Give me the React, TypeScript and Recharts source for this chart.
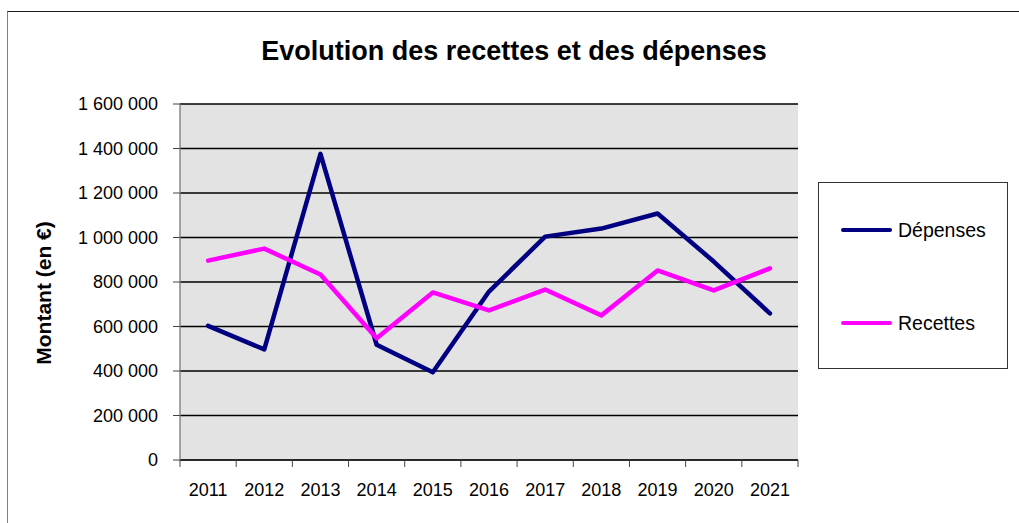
import React from 'react'
import { LineChart, Line, XAxis, YAxis, CartesianGrid } from 'recharts'

const years = ['2011', '2012', '2013', '2014', '2015', '2016', '2017', '2018', '2019', '2020', '2021']
const depenses = [603000, 497000, 1376000, 518000, 394000, 757000, 1004000, 1040000, 1108000, 892000, 659000]
const recettes = [896000, 950000, 834000, 547000, 753000, 672000, 766000, 650000, 852000, 762000, 861000]
const yTicks = [0, 200000, 400000, 600000, 800000, 1000000, 1200000, 1400000, 1600000]

const W = 1019
const H = 523
const X_AXIS_H = 30
const M = { top: 104, right: 221, bottom: 63 - X_AXIS_H, left: 0 }
const Y_AXIS_W = 180
const PLOT_W = W - M.left - M.right - Y_AXIS_W
const BW = PLOT_W / years.length

const FONT = '"Liberation Sans", Arial, sans-serif'

const data = years.map((y, i) => ({ year: y, depenses: depenses[i], recettes: recettes[i] }))

const fmt = (v: number) => String(v).replace(/\B(?=(\d{3})+(?!\d))/g, ' ')

function XTick(props: any) {
  const { x, y, payload, index } = props
  const last = index === years.length - 1
  return (
    <g>
      <line x1={x - BW / 2} x2={x - BW / 2} y1={y} y2={y + 7} stroke="#444" strokeWidth={1} />
      {last && <line x1={x + BW / 2} x2={x + BW / 2} y1={y} y2={y + 7} stroke="#444" strokeWidth={1} />}
      <text x={x} y={y + 30} textAnchor="middle" dominantBaseline="central" fontSize={18} fill="#000" fontFamily={FONT}>
        {payload.value}
      </text>
    </g>
  )
}

const legendItems = [
  { name: 'Dépenses', color: '#000080' },
  { name: 'Recettes', color: '#FF00FF' },
]

export default function App() {
  return (
    <div style={{ position: 'absolute', left: 0, top: 0, width: W, height: H, background: '#fff', fontFamily: FONT, overflow: 'hidden' }}>
      {/* outer chart frame, runs off the right and bottom edges */}
      <div style={{ position: 'absolute', left: 7, top: 11, width: W + 20, height: H + 20, borderTop: '1.5px solid #1a1a1a', borderLeft: '1.5px solid #808080' }} />

      <div style={{ position: 'absolute', left: 0, top: 36, width: 1028, textAlign: 'center', fontSize: 27, fontWeight: 'bold', color: '#000' }}>
        Evolution des recettes et des dépenses
      </div>

      <div style={{ position: 'absolute', left: 44, top: 293, transform: 'translate(-50%, -50%) rotate(-90deg)', whiteSpace: 'nowrap', fontSize: 21, fontWeight: 'bold', color: '#000' }}>
        Montant (en €)
      </div>

      <div style={{ position: 'absolute', left: 0, top: 0 }}>
        <LineChart width={W} height={H} data={data} margin={M}>
          <CartesianGrid vertical={false} stroke="#000" strokeWidth={1.4} fill="#E3E3E3" fillOpacity={1} />
          <XAxis
            dataKey="year"
            height={X_AXIS_H}
            padding={{ left: BW / 2, right: BW / 2 }}
            axisLine={{ stroke: '#222', strokeWidth: 1.4 }}
            tickLine={false}
            tickSize={0}
            tickMargin={0}
            interval={0}
            tick={<XTick />}
          />
          <YAxis
            width={Y_AXIS_W}
            domain={[0, 1600000]}
            ticks={yTicks}
            interval={0}
            tickFormatter={fmt}
            axisLine={{ stroke: '#808080', strokeWidth: 1.4 }}
            tickLine={{ stroke: '#444' }}
            tickSize={7}
            tickMargin={15}
            tick={{ fill: '#000', fontSize: 18, fontFamily: FONT }}
          />
          <Line dataKey="depenses" stroke="#000080" strokeWidth={4.5} dot={false} isAnimationActive={false} strokeLinejoin="round" strokeLinecap="round" />
          <Line dataKey="recettes" stroke="#FF00FF" strokeWidth={4.5} dot={false} isAnimationActive={false} strokeLinejoin="round" strokeLinecap="round" />
        </LineChart>
      </div>

      <div style={{ position: 'absolute', left: 818, top: 182, width: 188, height: 185, border: '1px solid #333', background: '#fff' }}>
        {legendItems.map((it, i) => (
          <div key={it.name} style={{ position: 'absolute', left: 22, top: 47 + i * 93 - 12, height: 24, display: 'flex', alignItems: 'center' }}>
            <div style={{ width: 51, height: 4.5, borderRadius: 3, background: it.color }} />
            <span style={{ marginLeft: 6, fontSize: 19.5, color: '#000' }}>{it.name}</span>
          </div>
        ))}
      </div>
    </div>
  )
}
